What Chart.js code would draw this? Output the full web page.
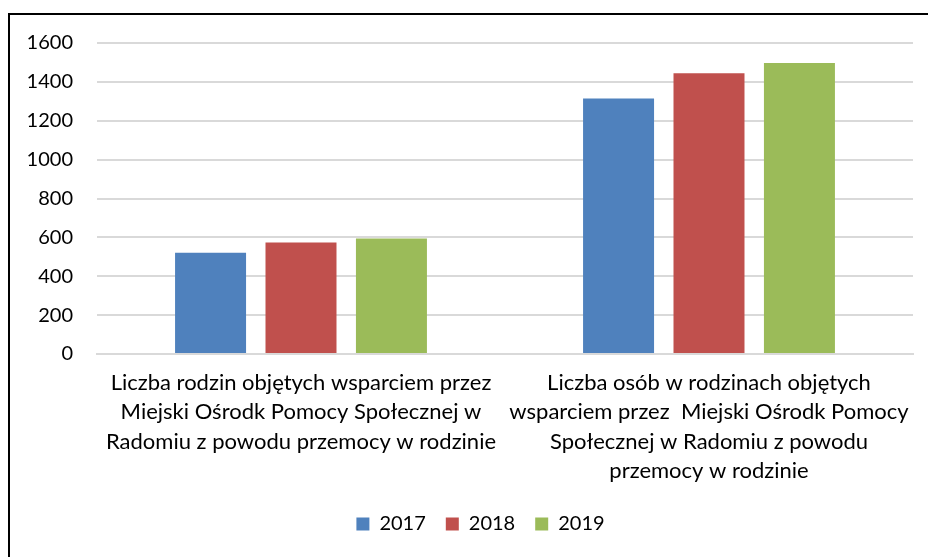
<!DOCTYPE html>
<html><head><meta charset="utf-8">
<script src="https://cdn.jsdelivr.net/npm/chart.js"></script>
<style>
html,body{margin:0;padding:0;background:#fff;}
#wrap{position:relative;width:928px;height:557px;overflow:hidden;background:#fff;}
#frame{position:absolute;left:8px;top:13px;width:1000px;height:1000px;border:2px solid #000;box-sizing:border-box;}
canvas{position:absolute;left:0;top:0;}
</style></head><body>
<div id="wrap"><div id="frame"></div><canvas id="c" width="928" height="557"></canvas></div>
<script>
const categories = [
  ["Liczba rodzin objętych wsparciem przez", "Miejski Ośrodk Pomocy Społecznej w", "Radomiu z powodu przemocy w rodzinie"],
  ["Liczba osób w rodzinach objętych", "wsparciem przez  Miejski Ośrodk Pomocy", "Społecznej w Radomiu z powodu", "przemocy w rodzinie"]
];
const seriesNames = ["2017", "2018", "2019"];
const values2017 = [521, 1314];
const values2018 = [573, 1445];
const values2019 = [594, 1497];
const yMin = 0, yMax = 1600, yStep = 200;

const colors = ["#4F81BD", "#C0504D", "#9BBB59"];
const fam = "Lato, 'Liberation Sans', sans-serif";

const shiftLegend = {
  id: 'shiftLegend',
  afterLayout(chart) {
    const l = chart.legend;
    if (l) { l.left += 24; l.right += 24; }
  }
};

new Chart(document.getElementById('c'), {
  type: 'bar',
  data: {
    labels: categories,
    datasets: [values2017, values2018, values2019].map((v, i) => ({
      label: seriesNames[i], data: v, backgroundColor: colors[i],
      categoryPercentage: 0.665, barPercentage: 0.785
    }))
  },
  plugins: [shiftLegend],
  options: {
    responsive: false, animation: false, devicePixelRatio: 1,
    layout: {padding: {left: 0, right: 15, top: 43, bottom: 13}},
    plugins: {
      legend: {position: 'bottom', labels: {font: {family: fam, size: 20}, color: '#000', boxWidth: 13, boxHeight: 13, padding: 20}},
      tooltip: {enabled: false}
    },
    scales: {
      x: {
        grid: {display: false, drawTicks: false},
        border: {display: true, color: '#d9d9d9', width: 2},
        ticks: {font: {family: fam, size: 22, lineHeight: 1.34}, color: '#000', maxRotation: 0, autoSkip: false, padding: 14},
        afterFit: s => { s.height = 140; }
      },
      y: {
        min: yMin, max: yMax,
        grid: {color: '#d9d9d9', lineWidth: 2, drawTicks: false},
        border: {display: false},
        ticks: {stepSize: yStep, font: {family: fam, size: 20}, color: '#000', padding: 24, callback: v => String(v)},
        afterFit: s => { s.width = 97; }
      }
    }
  }
});
</script>
</body></html>
